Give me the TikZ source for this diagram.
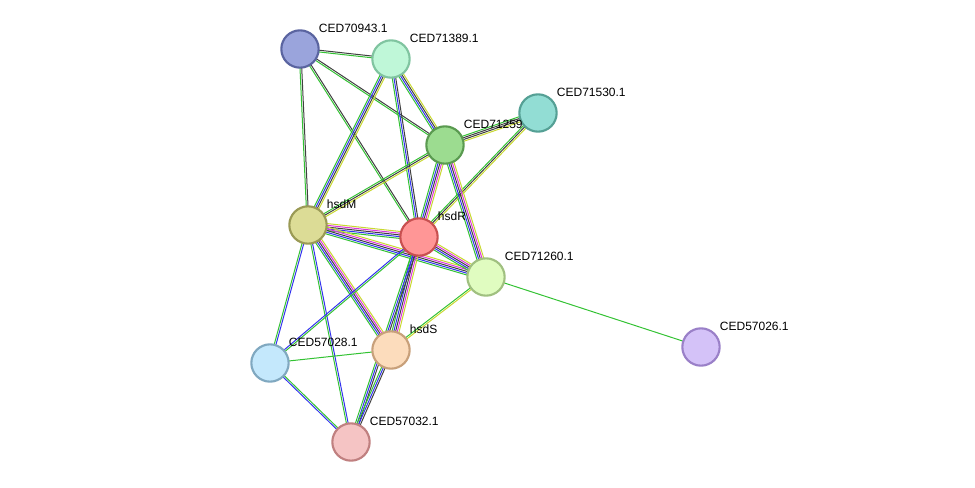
\documentclass[tikz,border=0pt]{standalone}
\usepackage{fontspec}
\setmainfont{Liberation Sans}
\usetikzlibrary{calc}
\definecolor{eg}{HTML}{33C233}
\definecolor{ek}{HTML}{404040}
\definecolor{eb}{HTML}{3333EE}
\definecolor{em}{HTML}{DD33DD}
\definecolor{ey}{HTML}{C8D830}
\definecolor{fA}{HTML}{9AA4DC}\definecolor{sA}{HTML}{5A64A0}
\definecolor{fB}{HTML}{BFF7D8}\definecolor{sB}{HTML}{80C4A0}
\definecolor{fC}{HTML}{92DDD4}\definecolor{sC}{HTML}{55A095}
\definecolor{fD}{HTML}{9CDC90}\definecolor{sD}{HTML}{5A9A50}
\definecolor{fM}{HTML}{DCDC96}\definecolor{sM}{HTML}{9A9A55}
\definecolor{fR}{HTML}{FF9696}\definecolor{sR}{HTML}{C85050}
\definecolor{fE}{HTML}{E0FCC0}\definecolor{sE}{HTML}{A0C080}
\definecolor{fF}{HTML}{D4C2F8}\definecolor{sF}{HTML}{9A80C8}
\definecolor{fG}{HTML}{C4E8FC}\definecolor{sG}{HTML}{80A8C0}
\definecolor{fS}{HTML}{FCDCBC}\definecolor{sS}{HTML}{C8A07A}
\definecolor{fH}{HTML}{F5C4C4}\definecolor{sH}{HTML}{C08080}
\newcommand\sedge[3]{%
  \foreach \c [count=\i] in {#3} {\xdef\nn{\i}}%
  \foreach \c [count=\i] in {#3} {%
    \pgfmathsetmacro\off{(\i-(\nn+1)/2)*1.3}%
    \draw[\c, line width=0.75pt] ($(#1)!\off pt!90:(#2)$) -- ($(#2)!\off pt!-90:(#1)$);
  }}
\tikzset{prot/.style={circle, minimum size=28pt, inner sep=0pt, line width=1.6pt, fill=f#1, draw=s#1},
  lab/.style={font=\fontsize{9pt}{10pt}\selectfont, anchor=west, inner sep=0.5pt}}
\begin{document}
\begin{tikzpicture}[x=0.75pt,y=-0.75pt]
\useasboundingbox (0,0) rectangle (975,488);
\coordinate (a) at (300,49);
\coordinate (b) at (391,59);
\coordinate (c) at (538,113);
\coordinate (d) at (445,145);
\coordinate (m) at (308,225);
\coordinate (r) at (419,237);
\coordinate (e) at (486,277);
\coordinate (f) at (701,347);
\coordinate (g) at (270,363);
\coordinate (s) at (391,350);
\coordinate (h) at (351,442);
\sedge{a}{b}{eg,ek}
\sedge{a}{d}{eg,ek}
\sedge{a}{m}{eg,ek}
\sedge{a}{r}{eg,ek}
\sedge{b}{d}{eg,eb,ek,ey}
\sedge{b}{r}{eg,eb,ek}
\sedge{b}{m}{eg,eb,ek,ey}
\sedge{c}{d}{eg,ek,ek,ey}
\sedge{c}{r}{eg,ek,ey}
\sedge{d}{m}{eg,ek,ey}
\sedge{d}{r}{eg,eb,ek,em,ey}
\sedge{d}{e}{eg,eb,ek,em,ey}
\sedge{m}{r}{eg,eb,ek,em,ey}
\sedge{m}{e}{eg,eb,ek,em,ey}
\sedge{m}{s}{eg,eb,ek,em,ey}
\sedge{m}{g}{eg,eb}
\sedge{m}{h}{eg,eb}
\sedge{r}{e}{eg,eb,ek,em,ey}
\sedge{r}{s}{eg,eb,ek,em,ey}
\sedge{r}{g}{eb,eg}
\sedge{r}{h}{eg,eb,ek}
\sedge{e}{s}{eg,ey}
\sedge{e}{f}{eg}
\sedge{g}{s}{eg}
\sedge{g}{h}{eb,eg}
\sedge{s}{h}{eg,eb,ek}
\node[prot=A] (A) at (a) {};
\node[prot=B] (B) at (b) {};
\node[prot=C] (C) at (c) {};
\node[prot=D] (D) at (d) {};
\node[prot=M] (M) at (m) {};
\node[prot=R] (R) at (r) {};
\node[prot=E] (E) at (e) {};
\node[prot=F] (F) at (f) {};
\node[prot=G] (G) at (g) {};
\node[prot=S] (S) at (s) {};
\node[prot=H] (H) at (h) {};
\node[lab] (lA) at ($(a)+(18,-21)$) {CED70943.1};
\node[lab] (lB) at ($(b)+(18,-21)$) {CED71389.1};
\node[lab] (lC) at ($(c)+(18,-21)$) {CED71530.1};
\node[lab] (lD) at ($(d)+(18,-21)$) {CED71259};
\node[lab] (lM) at ($(m)+(18,-21)$) {hsdM};
\node[lab] (lR) at ($(r)+(18,-21)$) {hsdR};
\node[lab] (lE) at ($(e)+(18,-21)$) {CED71260.1};
\node[lab] (lF) at ($(f)+(18,-21)$) {CED57026.1};
\node[lab] (lG) at ($(g)+(18,-21)$) {CED57028.1};
\node[lab] (lS) at ($(s)+(18,-21)$) {hsdS};
\node[lab] (lH) at ($(h)+(18,-21)$) {CED57032.1};
\end{tikzpicture}
\end{document}
